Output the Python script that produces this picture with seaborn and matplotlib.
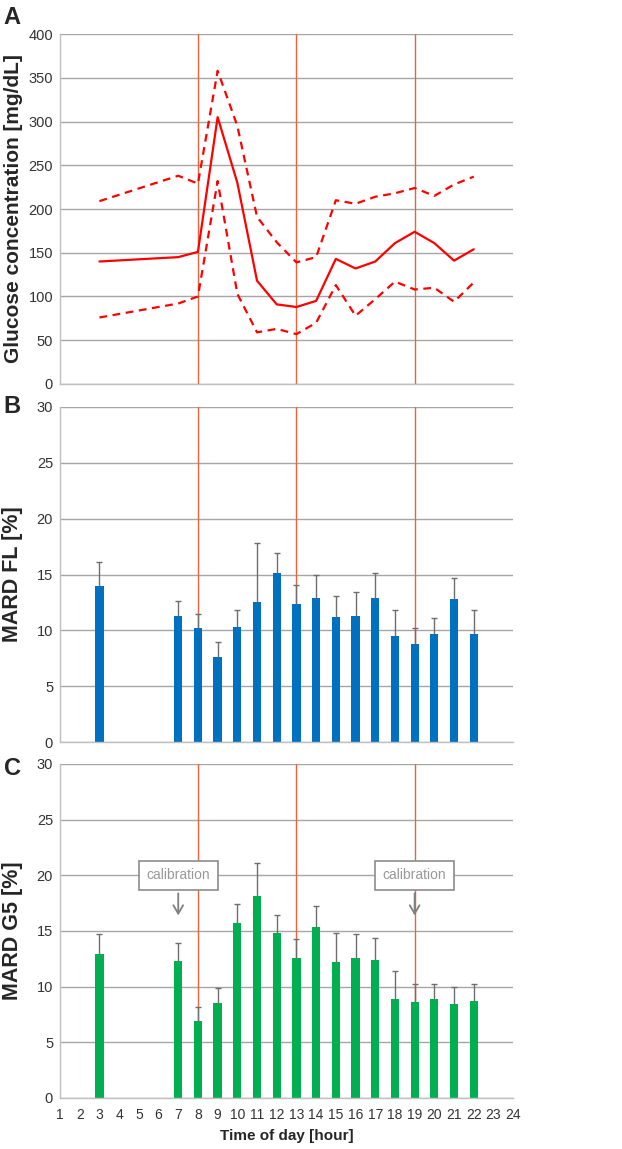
import numpy as np
import matplotlib
matplotlib.use("Agg")
import matplotlib.pyplot as plt
import seaborn as sns

# ── data ─────────────────────────────────────────────
hours = [3, 7, 8, 9, 10, 11, 12, 13, 14, 15, 16, 17, 18, 19, 20, 21, 22]

glucose_mean = [140, 145, 151, 305, 230, 118, 91, 88, 95, 143, 132, 140, 161, 174, 161, 141, 154]
glucose_upper = [209, 238, 229, 358, 295, 191, 162, 139, 145, 210, 206, 214, 218, 224, 215, 228, 237]
glucose_lower = [76, 92, 100, 232, 103, 59, 63, 57, 70, 113, 78, 97, 117, 108, 110, 94, 116]

mard_fl = [14.0, 11.3, 10.2, 7.6, 10.3, 12.5, 15.1, 12.4, 12.9, 11.2, 11.3, 12.9, 9.5, 8.8, 9.7, 12.8, 9.7]
mard_fl_top = [16.1, 12.6, 11.5, 9.0, 11.8, 17.8, 16.9, 14.1, 15.0, 13.1, 13.4, 15.1, 11.8, 10.2, 11.1, 14.7, 11.8]

mard_g5 = [12.9, 12.3, 6.9, 8.5, 15.7, 18.1, 14.8, 12.6, 15.4, 12.2, 12.6, 12.4, 8.9, 8.6, 8.9, 8.4, 8.7]
mard_g5_top = [14.7, 13.9, 8.2, 9.9, 17.4, 21.1, 16.4, 14.3, 17.2, 14.8, 14.7, 14.4, 11.4, 10.2, 10.25, 10.0, 10.2]

meal_hours = [8, 13, 19]
calibration_hours = [7, 19]
x_ticks = list(range(1, 25))

# ── style ────────────────────────────────────────────
sns.set_style("white")
plt.rcParams['font.family'] = ['Liberation Sans', 'DejaVu Sans']

grid_col = '#a6a6a6'
tick_col = '#333333'
vline_col = '#e8643c'

fig = plt.figure(figsize=(6.22, 11.49), dpi=100)
axA = fig.add_axes([0.0965, 0.6658, 0.7285, 0.3046])
axB = fig.add_axes([0.0965, 0.3542, 0.7285, 0.2916])
axC = fig.add_axes([0.0965, 0.0444, 0.7285, 0.2907])


def style_axis(ax, ymax, ystep, show_xlabels):
    ax.set_xlim(1, 24)
    ax.set_ylim(0, ymax)
    ax.set_yticks(np.arange(0, ymax + 0.1, ystep))
    ax.set_xticks(x_ticks)
    ax.grid(axis='y', color=grid_col, linewidth=1.0)
    ax.grid(axis='x', visible=False)
    ax.set_axisbelow(True)
    for s in ['top', 'right']:
        ax.spines[s].set_visible(False)
    for s in ['left', 'bottom']:
        ax.spines[s].set_color('#c0c0c0')
        ax.spines[s].set_linewidth(1.0)
    ax.tick_params(axis='x', direction='out', length=4, color='#c0c0c0',
                   labelsize=10, labelcolor=tick_col, pad=3)
    ax.tick_params(axis='y', direction='out', length=3, color='#c0c0c0',
                   labelsize=10.5, labelcolor=tick_col, pad=2)
    if not show_xlabels:
        ax.set_xticklabels([])
    for h in meal_hours:
        ax.axvline(h, color=vline_col, linewidth=1.0, zorder=1)


# ── A: glucose ───────────────────────────────────────
style_axis(axA, 400, 50, False)
sns.lineplot(x=hours, y=glucose_mean, ax=axA, color='#ff0000', linewidth=1.6, zorder=3)
sns.lineplot(x=hours, y=glucose_upper, ax=axA, color='#ff0000', linewidth=1.6,
             linestyle=(0, (3.5, 2.5)), zorder=3)
sns.lineplot(x=hours, y=glucose_lower, ax=axA, color='#ff0000', linewidth=1.6,
             linestyle=(0, (3.5, 2.5)), zorder=3)
axA.set_ylabel('Glucose concentration [mg/dL]', fontsize=15, fontweight='bold', labelpad=4)
axA.set_xlabel('')


def bar_panel(ax, vals, tops, color, label):
    style_axis(ax, 30, 5, ax is axC)
    sns.barplot(x=hours, y=vals, ax=ax, color=color, native_scale=True,
                width=0.42, saturation=1, errorbar=None, linewidth=0, zorder=2)
    # upper-only error bars: stem from bar top plus a cap at the end
    ax.vlines(hours, vals, tops, color='#6e6e6e', linewidth=1.0, zorder=3)
    ax.scatter(hours, tops, marker='_', s=16, color='#6e6e6e', linewidths=1.0, zorder=3)
    ax.set_xlim(1, 24)
    ax.set_ylim(0, 30)
    ax.set_xticks(x_ticks)
    if ax is not axC:
        ax.set_xticklabels([])
    else:
        ax.set_xticklabels([str(t) for t in x_ticks])
    ax.set_ylabel(label, fontsize=15.5, fontweight='bold', labelpad=10)
    ax.set_xlabel('')


bar_panel(axB, mard_fl, mard_fl_top, '#0070c0', 'MARD FL [%]')
bar_panel(axC, mard_g5, mard_g5_top, '#00b050', 'MARD G5 [%]')
axC.set_xlabel('Time of day [hour]', fontsize=11, fontweight='bold', labelpad=5)

for h in calibration_hours:
    axC.annotate('calibration', xy=(h, 16.4), xytext=(h, 20.0),
                 ha='center', va='center', fontsize=10, color='#999999',
                 bbox=dict(boxstyle='square,pad=0.55', fc='white', ec='#8c8c8c', lw=1.2),
                 arrowprops=dict(arrowstyle='->,head_length=0.6,head_width=0.35',
                                 color='#7f7f7f', lw=1.3, shrinkA=2, shrinkB=0),
                 zorder=5)

# panel letters
fig.text(0.006, 0.995, 'A', fontsize=17, fontweight='bold', va='top', ha='left')
fig.text(0.006, 0.656, 'B', fontsize=17, fontweight='bold', va='top', ha='left')
fig.text(0.006, 0.341, 'C', fontsize=17, fontweight='bold', va='top', ha='left')

fig.savefig('out.png', dpi=100)
